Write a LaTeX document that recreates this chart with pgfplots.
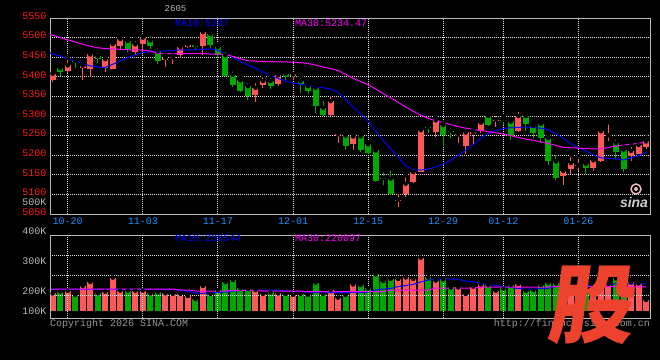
\documentclass[border=0pt]{standalone}
\usepackage{fontspec}
\setmainfont{Liberation Mono}
\newfontfamily\cjk{Noto Sans CJK SC}
\newfontfamily\lsans{Liberation Sans}
\usepackage{pgfplots}
\pgfplotsset{compat=1.18}
\usepackage{pgfplotstable}
\definecolor{cred}{RGB}{255,88,88}
\definecolor{cgreen}{RGB}{0,168,0}
\definecolor{pricered}{RGB}{255,25,25}
\definecolor{dateblue}{RGB}{30,144,255}
\definecolor{txtgray}{RGB}{185,185,185}
\definecolor{cpgray}{RGB}{150,150,150}
\definecolor{gridgray}{RGB}{225,225,225}
\definecolor{bordergray}{RGB}{185,185,185}
\definecolor{mablue}{RGB}{0,0,255}
\definecolor{mamag}{RGB}{255,0,255}
\definecolor{wmred}{RGB}{236,66,46}
\definecolor{logopink}{RGB}{235,185,185}
\definecolor{logogray}{RGB}{205,205,205}

% up (red) candles: index open high low close volume(K)
\pgfplotstableread{
i o h l c v
0 5391 5409 5387 5408 188
2 5415 5449 5410 5429 200
4 5423 5434 5391 5428 225
5 5420 5465 5400 5457 245
7 5423 5452 5412 5445 197
8 5421 5493 5420 5483 267
9 5479 5500 5468 5496 202
11 5463 5496 5455 5483 202
12 5483 5504 5460 5500 202
15 5444 5458 5425 5448 188
16 5448 5455 5433 5450 185
17 5456 5480 5448 5476 185
18 5476 5491 5474 5482 175
20 5479 5516 5455 5514 225
27 5353 5389 5336 5372 205
28 5378 5404 5372 5389 185
30 5381 5414 5376 5404 188
32 5402 5407 5391 5406 180
37 5302 5356 5300 5338 205
38 5249 5261 5230 5254 167
40 5229 5249 5214 5248 233
46 5085 5107 5069 5087 260
47 5100 5149 5093 5127 268
48 5132 5158 5130 5157 260
49 5158 5266 5156 5264 367
51 5260 5298 5246 5289 252
54 5251 5258 5230 5253 218
55 5224 5261 5204 5258 185
56 5255 5264 5228 5258 222
57 5262 5289 5257 5283 233
59 5288 5306 5272 5291 202
62 5261 5316 5260 5300 235
68 5146 5162 5124 5160 215
69 5165 5201 5152 5180 205
70 5172 5197 5160 5174 195
72 5168 5188 5159 5187 215
73 5184 5269 5182 5261 265
74 5249 5284 5235 5251 235
77 5197 5226 5184 5211 243
78 5203 5238 5202 5226 238
79 5220 5245 5216 5235 155
}\up

% down (green) candles
\pgfplotstableread{
i o h l c v
1 5422 5429 5402 5412 197
3 5441 5444 5423 5438 180
6 5452 5465 5434 5445 188
10 5491 5500 5463 5470 202
13 5493 5509 5470 5479 188
14 5465 5477 5432 5440 193
19 5481 5487 5470 5477 160
21 5509 5510 5474 5480 185
22 5476 5480 5449 5456 205
23 5455 5469 5402 5403 245
24 5405 5419 5374 5380 255
25 5391 5400 5360 5364 213
26 5376 5389 5340 5350 210
29 5389 5402 5369 5376 193
31 5408 5419 5391 5400 185
33 5389 5402 5359 5381 185
34 5376 5380 5357 5363 180
35 5372 5376 5308 5325 242
36 5321 5343 5300 5302 185
39 5250 5251 5213 5224 180
41 5248 5252 5208 5214 230
42 5228 5232 5203 5205 213
43 5212 5216 5131 5133 283
44 5142 5162 5124 5139 250
45 5140 5167 5099 5101 260
50 5273 5280 5257 5271 268
52 5277 5281 5224 5251 258
53 5262 5272 5243 5260 218
58 5300 5311 5274 5277 230
60 5290 5300 5278 5287 213
61 5286 5287 5238 5250 230
63 5300 5301 5262 5280 202
64 5275 5282 5245 5256 205
65 5280 5281 5231 5244 230
66 5244 5252 5175 5184 242
67 5184 5205 5137 5143 238
71 5178 5186 5152 5167 205
75 5231 5245 5194 5208 263
76 5214 5222 5157 5165 230
}\dn

% price moving averages
\pgfplotstableread{
i m10 m30
-0.36 5461 5508
0 5458 5506
1 5453 5500
2 5446 5494
3 5441 5489
4 5434 5483
5 5428 5478
6 5425 5474
7 5424 5472
8 5432 5471
9 5441 5470
10 5449 5469
11 5456 5469
12 5462 5468
13 5465 5466
14 5465 5460
15 5466 5459
16 5467 5459
17 5469 5459
18 5469 5459
19 5469 5459
20 5470 5459
21 5471 5458
22 5468 5458
23 5459 5457
24 5449 5452
25 5439 5446
26 5430 5441
27 5422 5440
28 5412 5439
29 5403 5439
30 5396 5438
31 5389 5438
32 5384 5437
33 5381 5436
34 5378 5434
35 5375 5430
36 5372 5425
37 5369 5421
38 5360 5416
39 5343 5406
40 5323 5396
41 5306 5388
42 5287 5380
43 5262 5369
44 5238 5357
45 5216 5346
46 5195 5335
47 5173 5323
48 5163 5312
49 5162 5302
50 5165 5294
51 5170 5288
52 5177 5283
53 5187 5278
54 5200 5273
55 5213 5269
56 5227 5266
57 5243 5263
58 5256 5260
59 5263 5257
60 5268 5254
61 5270 5250
62 5271 5245
63 5272 5241
64 5271 5238
65 5269 5234
66 5265 5230
67 5255 5225
68 5243 5220
69 5229 5219
70 5219 5218
71 5211 5217
72 5201 5216
73 5193 5216
74 5192 5220
75 5191 5223
76 5188 5226
77 5193 5228
78 5199 5230
79 5207 5234.47
}\pma

% volume moving averages (K)
\pgfplotstableread{
i v10 v30
-0.36 208 210
0 208 210
16 208 210
17 202 205
18 198 205
19 190 200
20 188 200
21 192 200
22 193 200
23 195 200
24 200 203
25 202 203
26 203 203
27 205 203
28 205 200
29 205 200
30 204 200
31 200 200
32 199 200
33 197 200
34 194 197
35 193 197
36 192 197
37 192 197
38 192 197
39 193 197
40 193 197
41 193 197
42 195 197
43 205 197
44 210 197
45 213 205
46 222 205
47 227 205
48 233 205
49 245 205
50 255 205
51 258 215
52 262 215
53 260 215
54 258 215
55 250 215
56 246 215
57 238 220
58 233 220
59 227 220
60 222 220
61 218 220
62 212 220
63 210 220
64 210 220
65 212 220
66 214 220
67 222 222
68 227 222
69 228 222
70 228 222
71 226 222
72 225 222
73 230 222
74 232 222
75 236 222
76 237 222
77 236 221
78 235 221
79 236.5 220.1
}\vma

\tikzset{dotgrid/.style={draw=gridgray, line width=1pt, dash pattern=on 1pt off 1pt}}
\pgfplotsset{
  sina/.style={scale only axis, anchor=south west, width=600pt,
    xmin=-0.36, xmax=79.53,
    axis line style={draw=bordergray, line width=1pt},
    major tick length=0pt,
    xtick={2,12,22,32,42,52,60,70},
    tick label style={font=\fontsize{10}{12}\selectfont},
    grid=major,
    grid style={dotgrid}},
  ebar/.style 2 args={only marks, mark=none, forget plot,
    error bars/y dir=minus, error bars/y explicit,
    error bars/error mark=none,
    error bars/error bar style={draw=#1, line width=#2, line cap=butt, solid}},
}

\begin{document}
\begin{tikzpicture}[font=\fontsize{10}{12}\selectfont]
\fill[black] (0,0) rectangle (660pt,360pt);

% ---------------- price panel ----------------
\begin{axis}[sina, at={(50pt,146pt)}, height=196pt,
  ymin=5050, ymax=5550,
  ytick={5050,5100,...,5550},
  yticklabels={5050,5100,5150,5200,5250,5300,5350,5400,5450,5500,5550},
  xticklabels={10-20,11-03,11-17,12-01,12-15,12-29,01-12,01-26},
  xticklabel style={text=dateblue},
  yticklabel style={text=pricered, yshift=2pt},
]
\addplot[ebar={cred}{1pt}] table[x=i, y=h, y error minus expr=\thisrow{h}-\thisrow{l}] {\up};
\addplot[ebar={cred}{6pt}] table[x=i, y=c, y error minus expr=\thisrow{c}-\thisrow{o}] {\up};
\addplot[ebar={cgreen}{1pt}] table[x=i, y=h, y error minus expr=\thisrow{h}-\thisrow{l}] {\dn};
\addplot[ebar={cgreen}{6pt}] table[x=i, y=o, y error minus expr=\thisrow{o}-\thisrow{c}] {\dn};
\addplot[mablue, line width=1pt] table[x=i, y=m10] {\pma};
\addplot[mamag, line width=1pt] table[x=i, y=m30] {\pma};
\end{axis}

% ---------------- volume panel ----------------
\begin{axis}[sina, at={(50pt,42pt)}, height=83pt,
  ymin=65, ymax=480, axis on top,
  xticklabels={},
  ytick={176.5,278.5,378.5}, yticklabels={},
]
\addplot[ebar={cred}{6pt}] table[x=i, y=v, y error minus expr=\thisrow{v}-100] {\up};
\addplot[ebar={cgreen}{6pt}] table[x=i, y=v, y error minus expr=\thisrow{v}-100] {\dn};
\addplot[mablue, line width=1pt] table[x=i, y=v10] {\vma};
\addplot[mamag, line width=1pt] table[x=i, y=v30] {\vma};
\end{axis}

% ---------------- texts ----------------
\node[text=txtgray, font=\fontsize{9}{10}\selectfont] at (175.5pt,351pt) {2605};
\node[text=mablue, anchor=west, inner sep=0pt] at (175pt,337pt) {MA10:5207};
\node[text=mamag, anchor=west, inner sep=0pt] at (295pt,337pt) {MA30:5234.47};
\node[text=mablue, anchor=west, inner sep=0pt] at (175pt,122pt) {MA10:236544};
\node[text=mamag, anchor=west, inner sep=0pt] at (295pt,122pt) {MA30:220097};
\node[text=txtgray, anchor=east, inner sep=0pt] at (46.7pt,129pt) {400K};
\node[text=txtgray, anchor=east, inner sep=0pt] at (46.7pt,99pt) {300K};
\node[text=txtgray, anchor=east, inner sep=0pt] at (46.7pt,69pt) {200K};
\node[text=txtgray, anchor=east, inner sep=0pt] at (46.7pt,49pt) {100K};
\node[text=txtgray, anchor=east, inner sep=0pt] at (46.7pt,158.3pt) {500K};
\node[text=cpgray, anchor=west, inner sep=0pt] at (50pt,36pt) {Copyright 2026 SINA.COM};
\node[text=cpgray, anchor=east, inner sep=0pt] at (650pt,36pt) {http://finance.sina.com.cn};

% sina logo watermark
\draw[draw=logopink, line width=1.5pt] (636pt,171pt) circle (5pt);
\fill[logopink] (636pt,171pt) circle (2pt);
\node[text=logogray, font=\lsans\bfseries\itshape\fontsize{14}{14}\selectfont] at (634pt,158pt) {sina};

% red watermark
\node[text=wmred, font=\cjk\bfseries\fontsize{86}{86}\selectfont, xslant=0.14, inner sep=0pt] at (594pt,55pt) {股};

\pgfresetboundingbox
\useasboundingbox (0,0) rectangle (660pt,360pt);
\end{tikzpicture}
\end{document}
